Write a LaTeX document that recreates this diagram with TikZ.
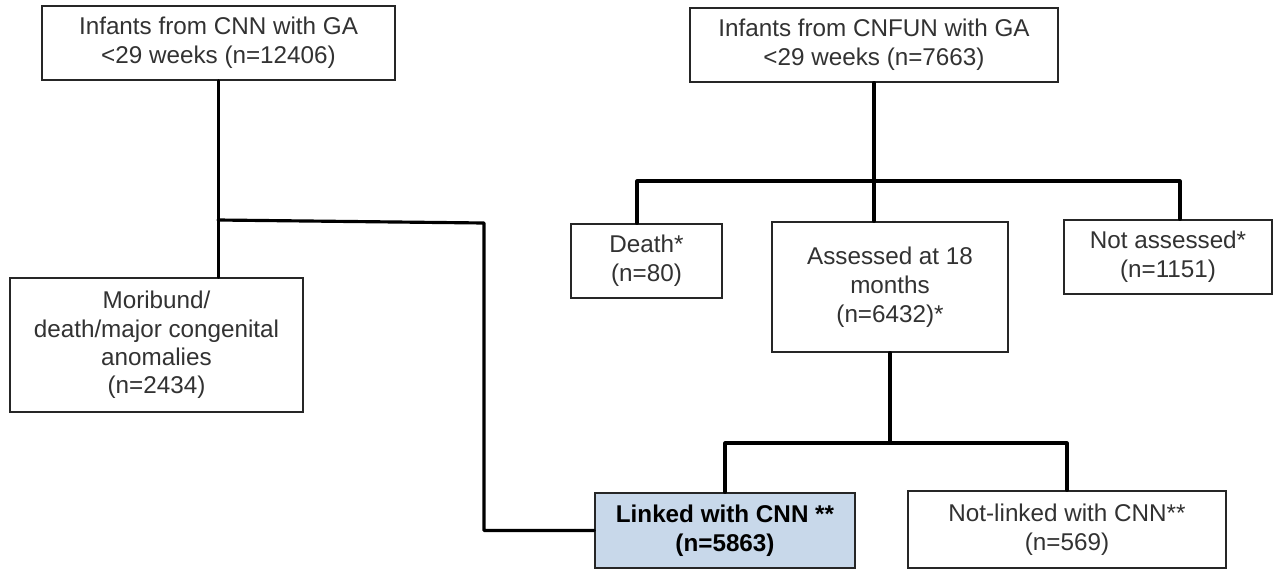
\documentclass[tikz,border=0pt]{standalone}
\usepackage{fontspec}
\setmainfont{Liberation Sans}
\definecolor{linkblue}{RGB}{200,216,234}
\definecolor{boxtext}{RGB}{50,50,50}
\tikzset{
  box/.style={draw=black!85, line width=0.8pt, fill=white, align=center,
    inner sep=2pt, text=boxtext, font=\fontsize{13.8}{16.5}\selectfont},
  link/.style={line width=1.8pt, line cap=round, line join=round}
}

\begin{document}
\begin{tikzpicture}[x=0.02cm,y=-0.02cm]
\useasboundingbox (0,0) rectangle (1273,568);

% left column
\node[box, minimum width=7.06cm, minimum height=1.48cm] (cnn) at (218.5,43)
  {Infants from CNN with GA\\<29 weeks (n=12406)};
\node[box, minimum width=5.86cm, minimum height=2.68cm,
  font=\fontsize{13.8}{16.2}\selectfont] (moribund) at (156.5,345)
  {Moribund/\\death/major congenital\\anomalies\\(n=2434)};

% right column
\node[box, minimum width=7.36cm, minimum height=1.48cm] (cnfun) at (874,45)
  {Infants from CNFUN with GA\\<29 weeks (n=7663)};
\node[box, minimum width=3.02cm, minimum height=1.48cm] (death) at (646.5,261)
  {Death*\\(n=80)};
\node[box, minimum width=4.72cm, minimum height=2.6cm] (assessed) at (890,287)
  {Assessed at 18\\months\\(n=6432)*};
\node[box, minimum width=4.16cm, minimum height=1.48cm] (notass) at (1168,257)
  {Not assessed*\\(n=1151)};

% bottom row
\node[box, fill=linkblue, text=black, minimum width=5.2cm, minimum height=1.5cm,
  font=\fontsize{13.8}{16.5}\selectfont\bfseries] (linked) at (725,530.5)
  {Linked with CNN **\\(n=5863)};
\node[box, minimum width=6.36cm, minimum height=1.54cm] (notlinked) at (1067,529.5)
  {Not-linked with CNN**\\(n=569)};

% connectors
\coordinate (split) at (218,220);
\coordinate (bend) at (484,223);
\draw[link] (cnn.south) -- (cnn.south |- moribund.north);
\draw[link] (split) -- (bend) -- (bend |- linked.west) -- (linked.west);

\coordinate (tl) at (637,181);
\coordinate (tr) at (1180,181);
\draw[link] (cnfun.south) -- (cnfun.south |- assessed.north);
\draw[link] (tl |- death.north) -- (tl) -- (tr) -- (tr |- notass.north);

\coordinate (bl) at (725,443);
\coordinate (br) at (1067,443);
\draw[link] (assessed.south) -- (assessed.south |- bl);
\draw[link] (bl |- linked.north) -- (bl) -- (br) -- (br |- notlinked.north);

\end{tikzpicture}
\end{document}
